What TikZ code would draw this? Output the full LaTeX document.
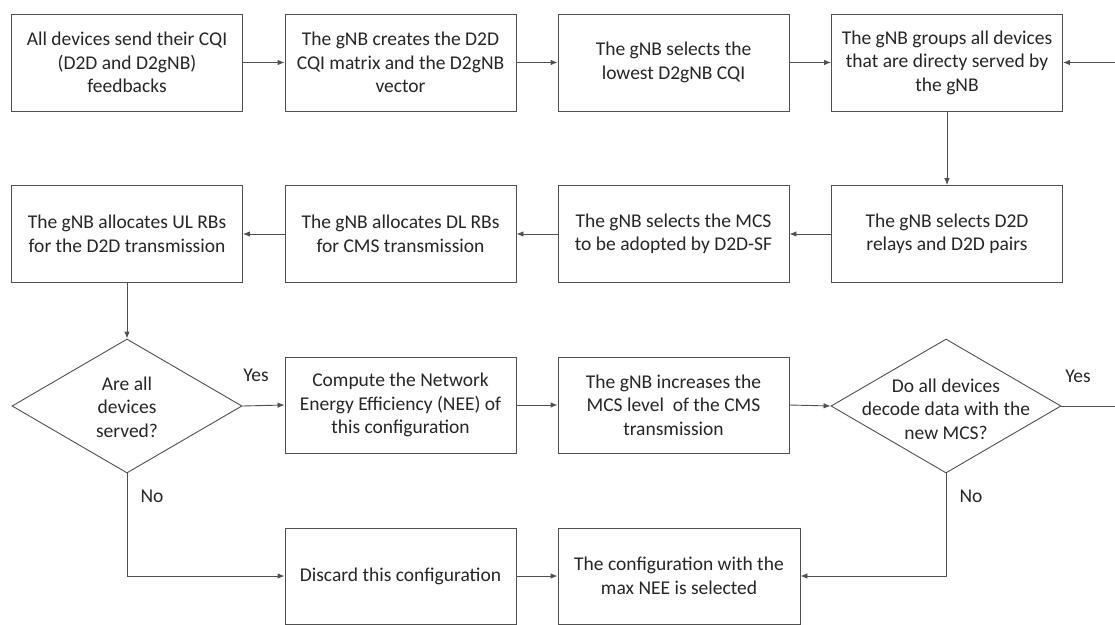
\documentclass[tikz,border=0pt]{standalone}
\usepackage{fontspec}
\setmainfont{Carlito}
\usetikzlibrary{shapes.geometric,arrows.meta}
\definecolor{ln}{HTML}{505050}
\definecolor{txt}{HTML}{262626}
\begin{document}
\begin{tikzpicture}[x=1pt,y=-1pt,
  every node/.style={font=\fontsize{19.5}{23.5}\selectfont, text=txt},
  box/.style={draw=ln, line width=0.9pt, minimum width=231pt, minimum height=97pt, inner sep=0pt, align=center},
  dia/.style={draw=ln, line width=0.9pt, diamond, minimum width=230pt, minimum height=134pt, inner sep=0pt, aspect=1.716},
  lab/.style={align=center, inner sep=0pt},
  arr/.style={draw=ln, line width=0.9pt, -{Latex[length=7pt,width=5.5pt]}}]
\useasboundingbox (0,0) rectangle (1115,624);
\clip (0,0) rectangle (1115,624);
\fill[white] (0,0) rectangle (1115,624);
% row 1
\node[box] (b1) at (127,62.5) {All devices send their CQI\\(D2D and D2gNB)\\feedbacks};
\node[box] (b2) at (400.5,62.5) {The gNB creates the D2D\\CQI matrix and the D2gNB\\vector};
\node[box] (b3) at (673.5,62.5) {The gNB selects the\\lowest D2gNB CQI};
\node[box] (b4) at (947,62.5) {The gNB groups all devices\\that are directy served by\\the gNB};
% row 2
\node[box] (b8) at (947,234) {The gNB selects D2D\\relays and D2D pairs};
\node[box] (b7) at (673.5,234) {The gNB selects the MCS\\to be adopted by D2D-SF};
\node[box] (b6) at (400.5,234) {The gNB allocates DL RBs\\for CMS transmission};
\node[box] (b5) at (127,234) {The gNB allocates UL RBs\\for the D2D transmission};
% row 3
\node[dia] (d1) at (127,406) {};
\node[lab] (t1) at (127,407) {Are all\\devices\\served?};
\node[box,minimum height=96pt] (b9) at (400.5,405) {Compute the Network\\Energy Efficiency (NEE) of\\this configuration};
\node[box,minimum height=96pt] (b10) at (673.5,405) {The gNB increases the\\MCS level\ \ of the CMS\\transmission};
\node[dia] (d2) at (946,406) {};
\node[lab] (t2) at (946,409) {Do all devices\\decode data with the\\new MCS?};
% row 4
\node[box,minimum height=96pt] (b11) at (400.5,576) {Discard this configuration};
\node[box,minimum height=96pt,minimum width=242pt] (b12) at (679,576) {The configuration with the\\max NEE is selected};
% labels
\node[lab] (y1) at (256,375) {Yes};
\node[lab] (n1) at (152,496) {No};
\node[lab] (y2) at (1078,376) {Yes};
\node[lab] (n2) at (971,496) {No};
% connectors
\draw[arr] (b1.east) -- (b2.west);
\draw[arr] (b2.east) -- (b3.west);
\draw[arr] (b3.east) -- (b4.west);
\draw[arr] (b4.south) -- (b8.north);
\draw[arr] (b8.west) -- (b7.east);
\draw[arr] (b7.west) -- (b6.east);
\draw[arr] (b6.west) -- (b5.east);
\draw[arr] (b5.south) -- (d1.north);
\draw[arr] (d1.east) -- (b9.west);
\draw[arr] (b9.east) -- (b10.west);
\draw[arr] (b10.east) -- (d2.west);
\draw[arr] (d1.south) |- (b11.west);
\draw[arr] (b11.east) -- (b12.west);
\draw[arr] (d2.south) |- (b12.east);
\coordinate (rt) at (1135,234);
\draw[arr] (d2.east) -| (rt) |- (b4.east);
\end{tikzpicture}
\end{document}
